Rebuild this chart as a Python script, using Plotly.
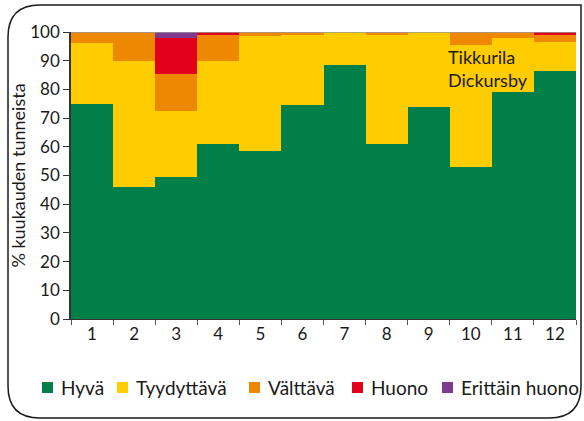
import plotly.graph_objects as go

# Share of monthly hours per air-quality class, Tikkurila (Dickursby)
months = ["1", "2", "3", "4", "5", "6", "7", "8", "9", "10", "11", "12"]
hyva = [75, 46, 49.5, 61, 58.5, 74.5, 88.5, 61, 74, 53, 79, 86.5]
tyydyttava = [21, 44, 23, 29, 40, 24.5, 11.5, 38, 26, 42.5, 19, 10]
valttava = [4, 10, 13, 9, 1.5, 1, 0, 1, 0, 4.5, 2, 2.5]
huono = [0, 0, 12.5, 1, 0, 0, 0, 0, 0, 0, 0, 1]
erittain_huono = [0, 0, 2, 0, 0, 0, 0, 0, 0, 0, 0, 0]

series = [
    ("Hyvä", hyva, "#007F48"),
    ("Tyydyttävä", tyydyttava, "#FFCC00"),
    ("Välttävä", valttava, "#EE8800"),
    ("Huono", huono, "#E2001A"),
    ("Erittäin huono", erittain_huono, "#7D3A91"),
]

W, H = 584, 421
ML, MR, MT, MB = 71, 8, 32, 102
PW, PH = W - ML - MR, H - MT - MB

FONT = "Lato, 'DejaVu Sans', sans-serif"
INK = "#1a1a1a"

fig = go.Figure()
for name, vals, color in series:
    fig.add_trace(go.Bar(x=months, y=vals, name=name, showlegend=False,
                         marker=dict(color=color, line=dict(width=0))))


def px_to_paper(px, py):
    return (px - ML) / PW, (H - MB - py) / PH


def P(px, py):
    a, b = px_to_paper(px, py)
    return f"{a:.5f},{b:.5f}"


# rounded frame around the whole chart
x0, y0, x1, y1, r = 8, 5, 581, 418, 32
path = (
    f"M {P(x0 + r, y0)} L {P(x1, y0)} L {P(x1, y1 - r)} "
    f"Q {P(x1, y1)} {P(x1 - r, y1)} L {P(x0 + r, y1)} "
    f"Q {P(x0, y1)} {P(x0, y1 - r)} L {P(x0, y0 + r)} "
    f"Q {P(x0, y0)} {P(x0 + r, y0)} Z"
)
fig.add_shape(type="path", path=path, xref="paper", yref="paper",
              line=dict(color=INK, width=1.5), layer="below")

# thin grey line along the top of the plot area
fig.add_shape(type="line", xref="paper", yref="y", x0=0, x1=1, y0=100, y1=100,
              line=dict(color="#999999", width=1.5), layer="above")

# station label
ax, ay = px_to_paper(446, 44)
fig.add_annotation(text="Tikkurila<br>Dickursby", xref="paper", yref="paper", x=ax, y=ay,
                   xanchor="left", yanchor="top", align="left", showarrow=False,
                   font=dict(family=FONT, size=18, color=INK))

# legend row: coloured square + class name
legend_x = [42, 117, 249, 352, 442]
legend_y = 387.5
for (name, _, color), lx in zip(series, legend_x):
    sx0, sy0 = px_to_paper(lx, legend_y - 5.5)
    sx1, sy1 = px_to_paper(lx + 11, legend_y + 5.5)
    fig.add_shape(type="rect", xref="paper", yref="paper", x0=sx0, x1=sx1, y0=sy0, y1=sy1,
                  fillcolor=color, line=dict(width=0))
    tx, ty = px_to_paper(lx + 17, legend_y)
    fig.add_annotation(text=name, xref="paper", yref="paper", x=tx, y=ty,
                       xanchor="left", yanchor="middle", showarrow=False,
                       font=dict(family=FONT, size=19, color=INK))

fig.update_layout(
    width=W, height=H,
    margin=dict(l=ML, r=MR, t=MT, b=MB),
    barmode="stack", bargap=0,
    plot_bgcolor="white", paper_bgcolor="white",
    font=dict(family=FONT, size=17, color=INK),
    showlegend=False,
    xaxis=dict(type="category", tickson="boundaries", ticks="outside", ticklen=5,
               tickcolor="#555", showline=True, linecolor="#333", linewidth=1,
               showgrid=False, tickfont=dict(size=17)),
    yaxis=dict(range=[0, 100], tickvals=list(range(0, 101, 10)), ticks="outside",
               ticklen=6, tickcolor="#333", showline=True, linecolor="#333",
               linewidth=1.5, showgrid=False, zeroline=False,
               title=dict(text="% kuukauden tunneista", font=dict(size=18), standoff=0),
               tickfont=dict(size=17)),
)

fig.write_html("out.html")
